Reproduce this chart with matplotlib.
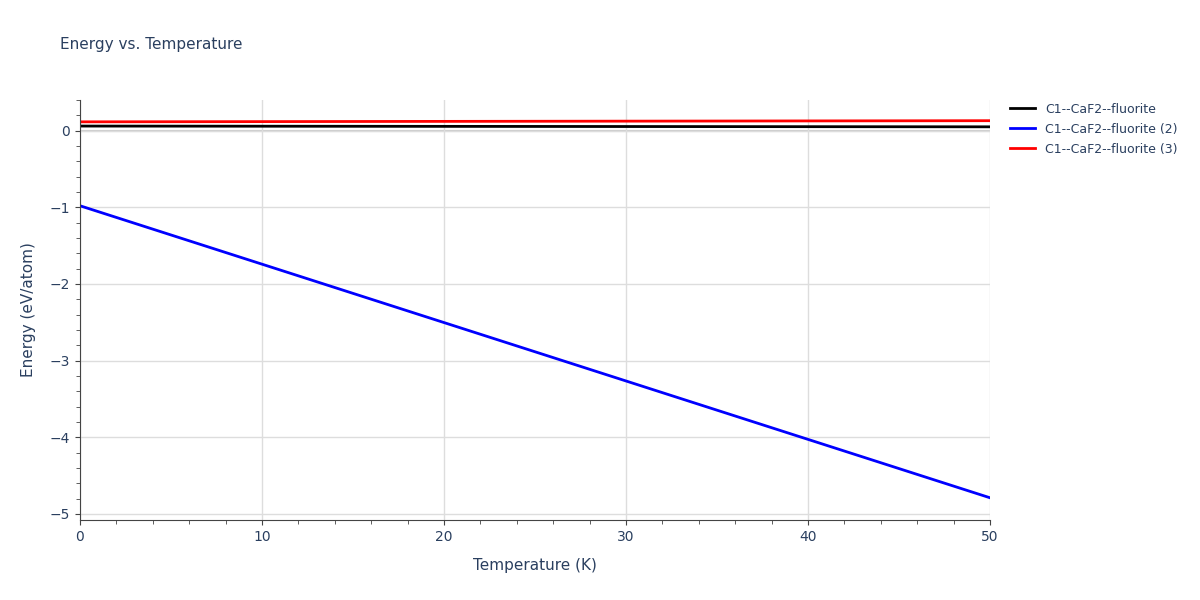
import matplotlib
matplotlib.use("Agg")
import matplotlib.pyplot as plt
from matplotlib.ticker import MultipleLocator

temps = [0, 50]
black = [0.06, 0.05]
blue = [-0.98, -4.79]
red = [0.115, 0.13]
labels = ["C1--CaF2--fluorite", "C1--CaF2--fluorite (2)", "C1--CaF2--fluorite (3)"]
colors = ["black", "blue", "red"]

fig = plt.figure(figsize=(12, 6), dpi=100)
ax = fig.add_axes([80/1200, 1-520/600, 910/1200, 420/600])
for y, c, l in zip([black, blue, red], colors, labels):
    ax.plot(temps, y, color=c, lw=2, label=l)
ax.set_xlim(0, 50)
ax.set_ylim(-5.08, 0.4)
ax.xaxis.set_major_locator(MultipleLocator(10))
ax.xaxis.set_minor_locator(MultipleLocator(2))
ax.yaxis.set_major_locator(MultipleLocator(1))
ax.yaxis.set_minor_locator(MultipleLocator(0.2))
ax.grid(True, which="major", color="#dddddd", lw=1)
ax.axhline(0, color="#cccccc", lw=1.5, zorder=0)
for s in ["top", "right"]:
    ax.spines[s].set_visible(False)
for s in ["left", "bottom"]:
    ax.spines[s].set_color("#444444")
ax.tick_params(colors="#444444", labelcolor="#2a3f5f", labelsize=10)
ax.tick_params(which="minor", colors="#444444", length=3)
ax.set_yticks([0, -1, -2, -3, -4, -5])
ax.set_yticklabels(["0", "−1", "−2", "−3", "−4", "−5"])
ax.set_xlabel("Temperature (K)", color="#2a3f5f", fontsize=11, labelpad=10)
ax.set_ylabel("Energy (eV/atom)", color="#2a3f5f", fontsize=11, labelpad=10)
fig.text(60/1200, 1-45/600, "Energy vs. Temperature", color="#2a3f5f", fontsize=11, va="center")
leg = ax.legend(loc="upper left", bbox_to_anchor=(1.01, 1.02), frameon=False, fontsize=9,
                handlelength=2, labelcolor="#2a3f5f", labelspacing=0.55)
fig.savefig("out.png", dpi=100)
